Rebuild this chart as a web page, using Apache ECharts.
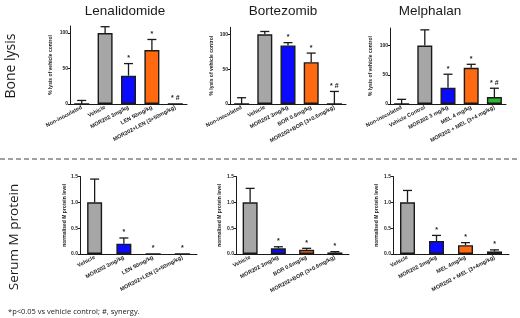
<!DOCTYPE html>
<html><head><meta charset="utf-8">
<script src="https://cdn.jsdelivr.net/npm/echarts@6/dist/echarts.min.js"></script>
<style>html,body{margin:0;padding:0;background:#fff}#c{width:520px;height:318px}</style>
</head><body><div id="c"></div>
<script>
// ---- data ----
const panelTitles = ['Lenalidomide', 'Bortezomib', 'Melphalan'];
const rowLabels = ['Bone lysis', 'Serum M protein'];
const footnote = '*p<0.05 vs vehicle control; #, synergy.';
const lysisAxisName = '% lysis of vehicle control';
const proteinAxisName = 'normalised M protein level';

const lysisLenCats = ['Non-inoculated', 'Vehicle', 'MOR202 3mg/kg', 'LEN 50mg/kg', 'MOR202+LEN (3+50mg/kg)'];
const lysisLenVals = [0, 100, 40, 76, 0];
const lysisLenErr = [5, 9, 17, 15, 0];
const lysisLenSig = ['', '', '*', '*', '* #'];

const lysisBorCats = ['Non-inoculated', 'Vehicle', 'MOR202 3mg/kg', 'BOR 0.6mg/kg', 'MOR202+BOR (3+0.6mg/kg)'];
const lysisBorVals = [0, 100, 84, 60, 0];
const lysisBorErr = [9, 4, 4, 13, 18];
const lysisBorSig = ['', '', '*', '*', '* #'];

const lysisMelCats = ['Non-inoculated', 'Vehicle Control', 'MOR202 3 mg/kg', 'MEL 4 mg/kg', 'MOR202 + MEL (3+4 mg/kg)'];
const lysisMelVals = [0, 100, 28, 62, 12];
const lysisMelErr = [8, 27, 23, 6, 15];
const lysisMelSig = ['', '', '*', '*', '* #'];

const mpLenCats = ['Vehicle', 'MOR202 3mg/kg', 'LEN 50mg/kg', 'MOR202+LEN (3+50mg/kg)'];
const mpLenVals = [1.0, 0.2, 0, 0];
const mpLenErr = [0.45, 0.11, 0, 0];
const mpLenSig = ['', '*', '*', '*'];

const mpBorCats = ['Vehicle', 'MOR202 3mg/kg', 'BOR 0.6mg/kg', 'MOR202+BOR (3+0.6mg/kg)'];
const mpBorVals = [1.0, 0.11, 0.08, 0.03];
const mpBorErr = [0.27, 0.03, 0.03, 0.015];
const mpBorSig = ['', '*', '*', '*'];

const mpMelCats = ['Vehicle', 'MOR202 3mg/kg', 'MEL 4mg/kg', 'MOR202 + MEL (3+4mg/kg)'];
const mpMelVals = [1.0, 0.25, 0.17, 0.05];
const mpMelErr = [0.23, 0.11, 0.05, 0.03];
const mpMelSig = ['', '*', '*', '*'];

const lysisTicks = [0, 50, 100];
const lysisMax = [110, 110, 130];
const proteinTicks = [0, 0.5, 1.0, 1.5];

// ---- styling ----
const GRAY = '#a6a6a6', BLUE = '#0a0aff', ORANGE = '#ff6a10', GREEN = '#2cb82c';
const topColors = [GRAY, GRAY, BLUE, ORANGE, GREEN];
const botColors = [GRAY, BLUE, ORANGE, GREEN];
const INK = '#1a1a1a';

const panels = [
  {cats: lysisLenCats, vals: lysisLenVals, err: lysisLenErr, sig: lysisLenSig, colors: topColors, grid: {left: 70, right: 333, top: 26, bottom: 214}, max: lysisMax[0], top: true, nameGap: 17},
  {cats: lysisBorCats, vals: lysisBorVals, err: lysisBorErr, sig: lysisBorSig, colors: topColors, grid: {left: 230, right: 174, top: 27.3, bottom: 214}, max: lysisMax[1], top: true, nameGap: 16},
  {cats: lysisMelCats, vals: lysisMelVals, err: lysisMelErr, sig: lysisMelSig, colors: topColors, grid: {left: 390, right: 14, top: 28.1, bottom: 214}, max: lysisMax[2], top: true, nameGap: 17},
  {cats: mpLenCats, vals: mpLenVals, err: mpLenErr, sig: mpLenSig, colors: botColors, grid: {left: 80, right: 323, top: 176.5, bottom: 64}, max: 1.5, top: false, nameGap: 12},
  {cats: mpBorCats, vals: mpBorVals, err: mpBorErr, sig: mpBorSig, colors: botColors, grid: {left: 236, right: 171, top: 176.5, bottom: 64}, max: 1.5, top: false, nameGap: 14},
  {cats: mpMelCats, vals: mpMelVals, err: mpMelErr, sig: mpMelSig, colors: botColors, grid: {left: 393, right: 11, top: 176.5, bottom: 64}, max: 1.5, top: false, nameGap: 14}
];

const grids = [], xAxes = [], yAxes = [], series = [];
panels.forEach((p, i) => {
  grids.push(Object.assign({containLabel: false}, p.grid));
  xAxes.push({
    type: 'category', gridIndex: i, data: p.cats, boundaryGap: true,
    axisLine: {lineStyle: {color: INK, width: 1}},
    axisTick: {alignWithLabel: true, length: 2, lineStyle: {color: INK}},
    axisLabel: {rotate: 28, fontSize: 5.5, fontWeight: 'bold', color: '#222', margin: 3, interval: 0, fontFamily: 'Liberation Sans'}
  });
  const ticks = p.top ? lysisTicks : proteinTicks;
  yAxes.push({
    type: 'value', gridIndex: i, min: 0, max: p.max,
    name: p.top ? lysisAxisName : proteinAxisName,
    nameLocation: 'middle', nameGap: p.nameGap, nameRotate: 90,
    nameTextStyle: {fontSize: 5, fontWeight: 'bold', color: '#222', fontFamily: 'Liberation Sans'},
    splitLine: {show: false},
    axisLine: {show: true, lineStyle: {color: INK, width: 1}},
    axisTick: {show: true, length: 2, lineStyle: {color: INK}, customValues: ticks},
    axisLabel: {fontSize: 5, color: '#222', margin: 2, fontFamily: 'Liberation Sans', fontWeight: 'bold',
      customValues: ticks,
      formatter: v => p.top ? String(v) : v.toFixed(1)}
  });
  series.push({
    type: 'bar', xAxisIndex: i, yAxisIndex: i, barWidth: 15,
    data: p.vals.map((v, k) => ({value: v, itemStyle: {color: p.colors[k]}})),
    itemStyle: {borderColor: INK, borderWidth: 1.4},
    silent: true, animation: false
  });
  series.push({
    type: 'custom', xAxisIndex: i, yAxisIndex: i, animation: false, silent: true,
    data: p.vals.map((v, k) => [k, v, p.err[k]]),
    renderItem: (params, api) => {
      const k = api.value(0), v = api.value(1), e = api.value(2);
      const base = api.coord([k, v]);
      const tip = api.coord([k, v + e]);
      const ch = [];
      if (e > 0) {
        ch.push({type: 'line', shape: {x1: base[0], y1: base[1], x2: tip[0], y2: tip[1]}, style: {stroke: INK, lineWidth: 1.3}});
        ch.push({type: 'line', shape: {x1: tip[0] - 4.5, y1: tip[1], x2: tip[0] + 4.5, y2: tip[1]}, style: {stroke: INK, lineWidth: 1.3}});
      }
      const s = p.sig[params.dataIndex];
      if (s) {
        ch.push({type: 'text', x: tip[0], y: tip[1] - 2,
          style: {text: s, fontSize: 7, fontWeight: 'bold', fill: '#222', textAlign: 'center', textVerticalAlign: 'bottom', fontFamily: 'Liberation Sans'}});
      }
      return {type: 'group', children: ch};
    }
  });
});

const titleCenters = [125, 283, 430];
const graphics = panelTitles.map((t, i) => ({
  type: 'text', x: titleCenters[i], y: 11,
  style: {text: t, fontSize: 13.5, fill: '#1a1a1a', textAlign: 'center', textVerticalAlign: 'middle', fontFamily: 'Liberation Sans'}
}));
graphics.push({type: 'text', x: 11, y: 66, rotation: Math.PI / 2,
  style: {text: rowLabels[0], fontSize: 14, fill: '#1a1a1a', textAlign: 'center', textVerticalAlign: 'middle', fontFamily: 'Open Sans'}});
graphics.push({type: 'text', x: 14, y: 237, rotation: Math.PI / 2,
  style: {text: rowLabels[1], fontSize: 13.5, fill: '#1a1a1a', textAlign: 'center', textVerticalAlign: 'middle', fontFamily: 'Open Sans'}});
graphics.push({type: 'line', shape: {x1: 0, y1: 159, x2: 520, y2: 159},
  style: {stroke: '#444', lineWidth: 1, lineDash: [5, 3]}});
graphics.push({type: 'text', x: 8, y: 312,
  style: {text: footnote, fontSize: 7.5, fill: '#222', textAlign: 'left', textVerticalAlign: 'middle', fontFamily: 'Open Sans'}});

const chart = echarts.init(document.getElementById('c'), null, {renderer: 'canvas'});
chart.setOption({
  animation: false,
  backgroundColor: '#fff',
  grid: grids, xAxis: xAxes, yAxis: yAxes, series: series,
  graphic: graphics
});
</script></body></html>
